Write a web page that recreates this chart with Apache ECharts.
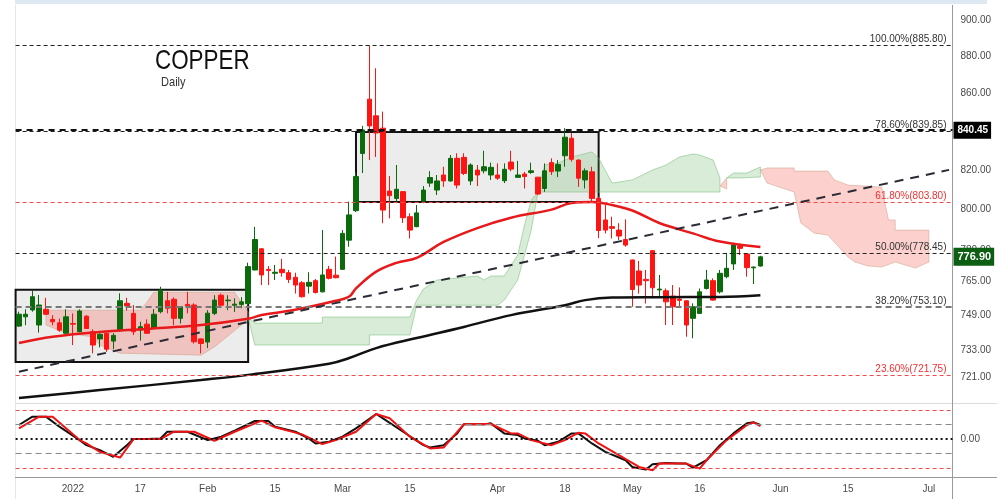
<!DOCTYPE html>
<html>
<head>
<meta charset="utf-8">
<title>Copper Daily</title>
<script src="https://cdn.jsdelivr.net/npm/echarts@6/dist/echarts.min.js"></script>
<style>
  html, body { margin: 0; padding: 0; background: #fff; }
  #chart { width: 997px; height: 499px; }
</style>
</head>
<body>
<div id="chart"></div>
<script>
var NARROW = "'Liberation Sans Narrow', 'Liberation Sans', sans-serif";

// trading days: weekdays from startDate, two exchange holidays dropped
var startDate = '2021-12-22';
var dayCount = 139;
var holidays = ['2022-01-17', '2022-04-15'];

// x axis labels (date of the bar under the label, text)
var tickDates = ['2022-01-03', '2022-01-18', '2022-02-01', '2022-02-15', '2022-03-01', '2022-03-15',
  '2022-04-01', '2022-04-18', '2022-05-02', '2022-05-16', '2022-06-01', '2022-06-15', '2022-07-01'];
var tickTexts = ['2022', '17', 'Feb', '15', 'Mar', '15', 'Apr', '18', 'May', '16', 'Jun', '15', 'Jul'];

// price axis labels
var priceTicks = [900, 880, 860, 820, 800, 780, 765, 749, 733, 721];

// [open, close, low, high]
var candles = [
  [744.2, 749.7, 743.9, 750.9], [748.5, 749.7, 744.6, 752.0], [751.7, 757.9, 750.9, 761.0], [744.7, 754.0, 741.2, 758.7],
  [752.0, 749.7, 749.3, 757.4], [747.3, 746.2, 744.6, 749.3], [745.7, 742.3, 741.6, 747.7], [740.9, 748.5, 740.6, 752.0],
  [745.4, 745.1, 735.5, 750.1], [741.6, 751.2, 741.3, 752.0], [748.8, 743.1, 742.8, 749.3], [741.6, 735.5, 731.7, 742.7],
  [738.3, 740.4, 734.4, 740.9], [740.9, 733.6, 732.4, 741.2], [737.3, 739.9, 733.6, 740.9], [742.1, 756.0, 741.6, 759.5],
  [754.8, 753.6, 751.4, 757.4], [750.1, 741.6, 740.1, 754.0], [742.4, 743.9, 737.5, 746.2], [745.1, 740.9, 740.6, 747.3],
  [743.1, 749.7, 742.8, 752.1], [750.9, 761.0, 750.1, 762.6], [756.0, 752.5, 750.1, 760.2], [756.7, 747.8, 744.6, 757.6],
  [747.8, 753.2, 745.4, 753.5], [754.3, 753.5, 750.1, 760.2], [754.0, 737.0, 736.2, 754.8], [738.3, 736.2, 731.7, 738.6],
  [736.9, 750.2, 734.1, 751.6], [750.1, 756.3, 749.3, 758.6], [758.6, 753.9, 753.2, 759.4], [756.0, 756.3, 751.6, 758.6],
  [753.9, 754.4, 750.8, 757.2], [754.3, 755.5, 752.5, 757.7], [754.7, 772.2, 753.9, 774.1], [770.6, 785.3, 770.4, 791.5],
  [780.8, 768.2, 763.4, 781.2], [770.9, 770.3, 763.4, 772.5], [769.0, 769.5, 765.8, 773.0], [770.9, 769.3, 767.4, 775.9],
  [769.3, 766.1, 764.4, 770.6], [767.1, 763.4, 759.4, 769.3], [764.5, 757.9, 757.5, 765.3], [762.9, 764.7, 759.4, 769.5],
  [765.5, 759.9, 759.4, 766.3], [760.2, 768.2, 759.9, 789.9], [770.9, 766.6, 766.1, 772.5], [768.1, 766.9, 766.6, 777.0],
  [770.9, 788.3, 770.6, 789.9], [785.0, 797.4, 781.8, 804.0], [799.5, 816.6, 798.8, 818.6], [828.4, 840.6, 818.4, 842.7],
  [856.8, 842.7, 825.0, 885.8], [848.0, 839.0, 826.6, 873.4], [841.5, 799.8, 793.3, 850.2], [809.3, 807.0, 795.7, 816.9],
  [805.6, 810.2, 804.0, 822.5], [809.0, 796.0, 793.4, 809.3], [796.5, 789.9, 785.8, 798.2], [791.6, 798.4, 791.3, 802.3],
  [804.3, 809.8, 803.2, 811.8], [813.3, 816.1, 811.4, 819.4], [809.8, 814.4, 807.3, 817.4], [817.4, 814.4, 811.4, 821.6],
  [814.4, 825.9, 814.0, 827.6], [825.9, 812.3, 810.6, 828.5], [826.4, 818.2, 817.4, 828.5], [814.4, 822.5, 812.3, 823.3],
  [819.9, 817.4, 811.8, 822.5], [819.5, 821.6, 818.2, 829.8], [817.4, 821.3, 814.9, 823.7], [817.4, 815.8, 814.9, 823.3],
  [814.5, 820.3, 813.3, 823.3], [824.0, 820.4, 819.3, 829.8], [816.2, 817.4, 816.0, 824.6], [817.9, 816.6, 810.6, 819.0],
  [818.7, 819.5, 818.0, 823.7], [816.3, 807.8, 807.3, 816.4], [810.6, 819.5, 808.9, 823.3], [823.7, 819.1, 817.4, 825.9],
  [819.4, 822.8, 816.3, 825.0], [827.2, 836.8, 821.6, 841.5], [836.3, 825.4, 824.2, 838.9], [825.0, 815.8, 811.4, 825.4],
  [814.9, 819.5, 810.6, 820.8], [819.0, 805.6, 804.0, 821.6], [805.6, 789.7, 786.0, 806.5], [794.9, 789.9, 788.3, 802.3],
  [791.6, 790.8, 785.8, 796.5], [789.9, 787.0, 785.0, 793.3], [785.3, 782.6, 781.8, 795.2], [775.4, 761.3, 753.2, 775.6],
  [770.1, 763.4, 759.4, 774.9], [766.1, 765.5, 754.7, 770.6], [779.9, 762.1, 757.1, 780.2], [761.1, 761.5, 758.1, 768.2],
  [760.7, 755.5, 744.7, 761.8], [758.2, 753.2, 744.7, 763.4], [756.8, 756.2, 752.9, 762.3], [756.0, 744.7, 739.3, 756.3],
  [747.8, 753.2, 738.6, 754.8], [750.1, 760.2, 749.8, 761.8], [761.8, 765.8, 761.3, 770.6], [765.5, 756.3, 756.0, 766.6],
  [760.2, 769.0, 759.4, 770.6], [767.4, 771.4, 766.6, 778.8], [773.5, 782.6, 770.6, 783.7], [782.1, 781.0, 777.8, 783.4],
  [778.3, 771.7, 767.4, 778.6], [771.6, 772.0, 763.9, 772.2], [772.5, 776.9, 772.2, 777.4]
];

// moving averages [bar index, value]
var maFast = [[0, 736.4], [5, 739.3], [12, 741.5], [19, 742.9], [27, 744.7], [34, 747.6], [36, 749.3], [41, 751.8],
  [47, 756.0], [49, 758.0], [50, 761.8], [53, 769.8], [56, 774.0], [59, 776.4], [63, 784.1], [68, 790.9], [73, 796.0],
  [79, 800.0], [82, 803.3], [85, 803.8], [88, 802.3], [91, 799.6], [95, 793.4], [100, 788.3], [104, 784.3], [110, 781.7]];
var maSlow = [[0, 711.7], [12, 715.2], [27, 719.7], [34, 722.0], [46, 727.0], [49, 729.6], [53, 734.1], [59, 738.7],
  [66, 743.8], [73, 749.3], [81, 753.9], [84, 756.3], [88, 757.5], [95, 757.7], [104, 757.8], [110, 758.6]];

// ichimoku cloud pieces, edges as [bar index, value]
var kumoBear1Top = [[3.6, 751.6], [10.8, 751.6], [18, 751.6], [18.7, 755.4], [20.2, 760.0], [26.9, 760.0], [32.3, 760.0], [33.7, 750.7], [34.2, 748.0]];
var kumoBear1Bottom = [[3.6, 744.7], [6.8, 741.0], [10.8, 739.2], [11.6, 735.5], [15, 731.8], [26.9, 730.9], [29.1, 734.6], [32.8, 744.7], [34.2, 748.0]];
var kumoBull1Top = [[34.2, 748.0], [34.6, 745.6], [44.7, 745.6], [45.1, 748.4], [58, 748.4], [59.1, 756.3], [59.9, 761.5], [62, 765.8],
  [68, 767.7], [68.8, 765.8], [69.9, 767.7], [72.1, 767.7], [73.6, 777.8], [75.1, 792.4], [76.3, 804.8], [76.9, 808.8],
  [78.3, 822.5], [80.3, 823.5], [82.2, 826.6], [84.7, 829.2], [85.8, 826.0], [88, 813.3], [90.7, 814.9], [93.6, 819.9],
  [95.5, 822.5], [98.1, 826.6], [99.6, 828.1], [101, 827.6], [102.8, 825.0], [103.7, 815.9], [104.2, 811.8]];
var kumoBull1Bottom = [[34.2, 748.0], [34.6, 735.5], [52.1, 735.5], [52.4, 740.1], [58, 740.1], [59.1, 753.9], [70.9, 753.9], [72.1, 756.3],
  [73.6, 765.8], [75.8, 789.9], [77.3, 808.8], [103.6, 808.8], [104.2, 811.8]];
var kumoBear2Top = [[104.2, 811.8], [105, 815.9]];
var kumoBear2Bottom = [[104.2, 811.8], [104.6, 810.3], [105, 815.9]];
var kumoBull2Top = [[105, 815.9], [105.8, 818.4], [108, 818.4], [109.9, 821.5], [110.4, 819.9]];
var kumoBull2Bottom = [[105, 815.9], [107, 815.9], [109.9, 816.4], [110.4, 819.9]];
var kumoBear3Top = [[110.4, 819.9], [110.8, 821.0], [114.8, 821.0], [115.4, 819.4], [119.9, 819.4], [121.4, 814.9], [123.3, 812.3],
  [128.2, 811.3], [129, 794.9], [130, 794.9], [130.3, 789.9], [134.9, 789.9]];
var kumoBear3Bottom = [[110.4, 819.9], [110.8, 813.3], [114.8, 808.8], [115.9, 793.4], [118.4, 788.4], [120.3, 787.5], [123.3, 776.8],
  [123.7, 774.4], [126, 772.5], [128.2, 772.0], [130.3, 774.4], [132.6, 771.5], [134.9, 774.4]];

// fibonacci retracement
var fibLevels = [885.80, 839.85, 803.80, 778.45, 753.10, 721.75];
var fibNames = ['100.00%', '78.60%', '61.80%', '50.00%', '38.20%', '23.60%'];

// drawn objects
var trendFrom = [0, 723.4];
var trendTo = [138, 820.0];
var box1 = [34, 727.8, 761.2];        // from left edge to bar, low, high
var box2 = [50, 86, 803.8, 839.5];    // from bar, to bar, low, high
var markPrice = 840.45;
var lastPrice = 776.90;

// oscillator [bar index, value]
var oscFast = [[0, 19.5], [2, 31.1], [4, 31.1], [6, 17.2], [9, -1.4], [10, -8.4], [12, -15.3], [14, -24.6], [16, -8.4], [17, 0],
  [19, 0], [21, 0.9], [22, 10.2], [25, 10.2], [28, -1.4], [30, 3.3], [32, 11.6], [35, 25.1], [37, 25.1], [38, 17.2], [41, 10.2],
  [43, 0.9], [44, -6.0], [46, -3.7], [48, 3.3], [50, 14.9], [53, 34.8], [54, 28.8], [57, 10.2], [60, -8.4], [61, -11.6],
  [63, -8.4], [65, 7.9], [66, 20.4], [69, 20.4], [70, 21.8], [72, 7.9], [74, 5.6], [75, 0.9], [77, -2.3], [78, -8.4],
  [80, -3.7], [82, 7.9], [83, 7.9], [85, -6.0], [87, -17.7], [90, -29.3], [91, -38.6], [93, -42.3], [94, -34.8], [96, -33.0],
  [98, -33.9], [99, -33.9], [100, -39.5], [102, -29.3], [104, -8.4], [106, 7.9], [108, 21.8], [109, 23.2], [110, 19.5]];
var oscSlow = [[0, 14.9], [3, 31.1], [5, 31.1], [9, -1.4], [10, -6.0], [12, -17.7], [15, -25.6], [17, 0], [21, 0], [23, 10.2],
  [26, 10.2], [29, -2.3], [32, 10.2], [36, 25.6], [38, 16.3], [42, 6.5], [45, -7.0], [47, -1.4], [50, 10.2], [53, 34.8],
  [55, 28.8], [58, 3.3], [61, -13.0], [63, -11.6], [66, 20.4], [70, 20.9], [73, 7.9], [74, 7.9], [76, -1.4], [79, -8.4],
  [81, -1.4], [83, 8.8], [84, 7.9], [86, -6.0], [89, -22.3], [92, -38.6], [94, -43.2], [95, -33.9], [98, -33.9], [99, -33.9],
  [101, -40.9], [102, -29.3], [105, -1.4], [108, 19.5], [109, 23.2], [110, 18.1]];
var oscLevels = [40, 20, 0, -20, -40];

function buildDays () {
  var out = [];
  var d = new Date(startDate + 'T00:00:00Z');
  while (out.length < dayCount) {
    var wd = d.getUTCDay();
    var s = d.toISOString().slice(0, 10);
    if (wd !== 0 && wd !== 6 && holidays.indexOf(s) < 0) out.push(s);
    d.setUTCDate(d.getUTCDate() + 1);
  }
  return out;
}
var days = buildDays();

var BULL_FILL = 'rgba(100,180,100,0.25)';
var BULL_EDGE = 'rgba(120,190,120,0.55)';
var BEAR_FILL = 'rgba(242,110,100,0.32)';
var BEAR_EDGE = 'rgba(200,150,120,0.45)';
var kumo = [
  { top: kumoBear1Top, bottom: kumoBear1Bottom, bull: false },
  { top: kumoBull1Top, bottom: kumoBull1Bottom, bull: true },
  { top: kumoBear2Top, bottom: kumoBear2Bottom, bull: false },
  { top: kumoBull2Top, bottom: kumoBull2Bottom, bull: true },
  { top: kumoBear3Top, bottom: kumoBear3Bottom, bull: false }
];

function renderKumo (params, api) {
  var seg = kumo[params.dataIndex];
  var up = seg.top.map(function (p) { return api.coord(p); });
  var down = seg.bottom.map(function (p) { return api.coord(p); }).reverse();
  return {
    type: 'polygon',
    shape: { points: up.concat(down) },
    style: { fill: seg.bull ? BULL_FILL : BEAR_FILL, stroke: seg.bull ? BULL_EDGE : BEAR_EDGE, lineWidth: 1 }
  };
}

// fib line styles, same order as fibLevels
var fibStyles = [
  { color: '#222', width: 1, type: [4, 3], text: '#333' },
  { color: '#222', width: 1, type: [4, 3], text: '#333' },
  { color: '#f24b4b', width: 1, type: [4, 3], text: '#f23030' },
  { color: '#222', width: 1.2, type: [4, 3], text: '#333' },
  { color: '#777', width: 2, type: [6, 4], text: '#333' },
  { color: '#f24b4b', width: 1, type: [4, 3], text: '#f23030' }
];

var oscStyles = {
  '40': { color: '#f24b4b', width: 1, type: [4, 3] },
  '20': { color: '#888', width: 1, type: [6, 4] },
  '0': { color: '#111', width: 2, type: [2, 3] },
  '-20': { color: '#888', width: 1, type: [6, 4] },
  '-40': { color: '#f24b4b', width: 1, type: [4, 3] }
};

var chart = echarts.init(document.getElementById('chart'));

chart.setOption({
  animation: false,
  backgroundColor: '#fff',
  graphic: [
    { type: 'rect', left: 15, top: 0, shape: { width: 972, height: 4 }, style: { fill: '#dde8f3' }, silent: true },
    { type: 'line', shape: { x1: 15.5, y1: 5, x2: 15.5, y2: 499 }, style: { stroke: '#e6e6e6', lineWidth: 1 }, silent: true },
    { type: 'line', shape: { x1: 15, y1: 403.5, x2: 997, y2: 403.5 }, style: { stroke: '#dcdcdc', lineWidth: 1 }, silent: true },
    { type: 'line', shape: { x1: 15, y1: 477.5, x2: 997, y2: 477.5 }, style: { stroke: '#9a9a9a', lineWidth: 1 }, silent: true },
    { type: 'line', shape: { x1: 952.5, y1: 5, x2: 952.5, y2: 499 }, style: { stroke: '#9a9a9a', lineWidth: 1 }, silent: true },
    // 标题（压窄的字）
    {
      type: 'text', x: 155, y: 47, scaleX: 0.8, silent: true,
      style: { text: 'COPPER', fontFamily: NARROW, fontSize: 28, fill: '#111', verticalAlign: 'top' }
    },
    {
      type: 'text', x: 161, y: 76, scaleX: 0.85, silent: true,
      style: { text: 'Daily', fontFamily: NARROW, fontSize: 13, fill: '#333', verticalAlign: 'top' }
    }
  ],
  grid: [
    { left: 15.6, right: 44.5, top: 5, height: 398 },
    { left: 15.6, right: 44.5, top: 403, height: 74 }
  ],
  xAxis: [
    {
      type: 'category', gridIndex: 0, data: days, boundaryGap: true,
      axisLine: { show: false }, axisTick: { show: false }, axisLabel: { show: false }, splitLine: { show: false }
    },
    {
      type: 'category', gridIndex: 1, data: days, boundaryGap: true,
      axisLine: { show: false }, axisTick: { show: false }, splitLine: { show: false },
      axisLabel: {
        interval: function (index, value) { return tickDates.indexOf(value) >= 0; },
        formatter: function (value) { return tickTexts[tickDates.indexOf(value)]; },
        color: '#4a4a4a', fontSize: 10, fontFamily: NARROW, margin: 7
      }
    }
  ],
  yAxis: [
    {
      type: 'log', logBase: 10, gridIndex: 0, position: 'right', min: 709.5, max: 908.4,
      axisLine: { show: false }, axisTick: { show: false }, splitLine: { show: false },
      axisLabel: {
        customValues: priceTicks,
        formatter: function (v) { return Number(v).toFixed(2); },
        color: '#4a4a4a', fontSize: 10, fontFamily: NARROW, margin: 8
      }
    },
    {
      type: 'value', gridIndex: 1, position: 'right', min: -52.5, max: 50,
      axisLine: { show: false }, axisTick: { show: false }, splitLine: { show: false },
      axisLabel: {
        customValues: [0],
        formatter: function (v) { return Number(v).toFixed(2); },
        color: '#4a4a4a', fontSize: 10, fontFamily: NARROW, margin: 8
      }
    }
  ],
  series: [
    {
      // rectangles
      name: 'boxes', type: 'line', xAxisIndex: 0, yAxisIndex: 0, data: [], silent: true,
      markArea: {
        silent: true, z: 0,
        itemStyle: { color: '#ececec', borderColor: '#111', borderWidth: 2 },
        data: [
          [{ yAxis: box1[2] }, { xAxis: days[box1[0]], yAxis: box1[1] }],
          [{ xAxis: days[box2[0]], yAxis: box2[3] }, { xAxis: days[box2[1]], yAxis: box2[2] }]
        ]
      }
    },
    {
      name: 'kumo', type: 'custom', xAxisIndex: 0, yAxisIndex: 0, z: 1, silent: true,
      renderItem: renderKumo,
      data: kumo.map(function (s, i) { return [i, 800]; })
    },
    {
      name: 'COPPER', type: 'candlestick', xAxisIndex: 0, yAxisIndex: 0, z: 2, barWidth: 5,
      data: candles,
      itemStyle: { color: '#0b6a0b', color0: '#ff1414', borderColor: '#0b6a0b', borderColor0: '#ff1414', borderWidth: 1 }
    },
    {
      name: 'MA fast', type: 'line', xAxisIndex: 0, yAxisIndex: 0, z: 3, data: maFast,
      smooth: 0.4, symbol: 'none', lineStyle: { color: '#e8191b', width: 2.5 }
    },
    {
      name: 'MA slow', type: 'line', xAxisIndex: 0, yAxisIndex: 0, z: 3, data: maSlow,
      smooth: 0.4, symbol: 'none', lineStyle: { color: '#111', width: 2.5 }
    },
    {
      // fib levels, trend line, price tags
      name: 'levels', type: 'line', xAxisIndex: 0, yAxisIndex: 0, data: [], silent: true,
      markLine: {
        silent: true, symbol: ['none', 'none'], animation: false,
        data: fibLevels.map(function (v, i) {
          var st = fibStyles[i];
          return {
            yAxis: v,
            lineStyle: { color: st.color, width: st.width, type: st.type },
            label: {
              show: true, position: 'insideEndTop', distance: [6, 1],
              formatter: fibNames[i] + '(' + v.toFixed(2) + ')',
              color: st.text, fontSize: 10, fontFamily: NARROW
            }
          };
        }).concat([
          [
            { coord: [days[trendFrom[0]], trendFrom[1]], lineStyle: { color: '#2b2b35', width: 2, type: [9, 7] }, label: { show: false } },
            { coord: [days[trendTo[0]], trendTo[1]] }
          ],
          {
            yAxis: markPrice,
            lineStyle: { color: '#111', width: 2, type: [6, 5] },
            label: {
              show: true, position: 'end', distance: 1, formatter: markPrice.toFixed(2),
              backgroundColor: '#000', color: '#fff', fontWeight: 'bold', fontSize: 10, fontFamily: NARROW,
              padding: [4, 3, 3, 4]
            }
          },
          {
            yAxis: lastPrice,
            lineStyle: { color: 'rgba(0,0,0,0)', width: 1 },
            label: {
              show: true, position: 'end', distance: 1, formatter: lastPrice.toFixed(2),
              backgroundColor: '#0b5e12', color: '#fff', fontWeight: 'bold', fontSize: 11, fontFamily: NARROW,
              padding: [4, 3, 3, 4]
            }
          }
        ])
      }
    },
    {
      name: 'osc fast', type: 'line', xAxisIndex: 1, yAxisIndex: 1, data: oscFast, z: 3,
      symbol: 'none', lineStyle: { color: '#111', width: 2 },
      markLine: {
        silent: true, symbol: ['none', 'none'], label: { show: false },
        data: oscLevels.map(function (v) {
          var st = oscStyles[String(v)];
          return { yAxis: v, lineStyle: { color: st.color, width: st.width, type: st.type } };
        })
      }
    },
    {
      name: 'osc slow', type: 'line', xAxisIndex: 1, yAxisIndex: 1, data: oscSlow, z: 4,
      symbol: 'none', lineStyle: { color: '#f01212', width: 2 }
    }
  ]
});
</script>
</body>
</html>
